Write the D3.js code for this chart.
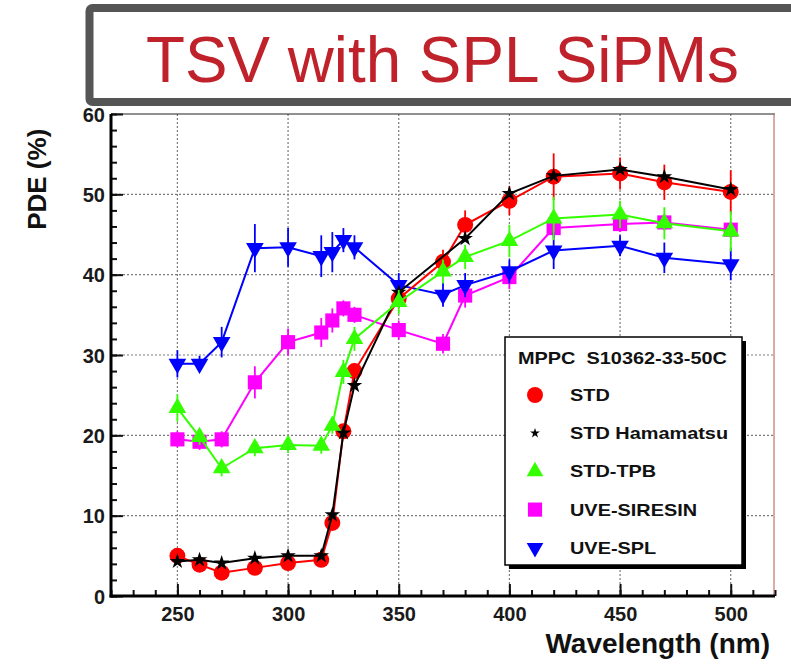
<!DOCTYPE html>
<html>
<head>
<meta charset="utf-8">
<script src="https://cdn.jsdelivr.net/npm/d3@7"></script>
<style>
  body { margin: 0; background: #fff; }
  svg { display: block; font-family: "Liberation Sans", Arial, sans-serif; }
</style>
</head>
<body>
<svg id="chart" width="791" height="664"></svg>
<script>
'use strict';

// wavelengths (nm) and PDE (%)
const stdNm = [250, 260, 270, 285, 300, 315, 320, 325, 330, 350, 370, 380, 400, 420, 450, 470, 500];
const stdPde = [5.0, 3.9, 2.9, 3.5, 4.1, 4.5, 9.1, 20.5, 28.0, 37.0, 41.6, 46.2, 49.2, 52.2, 52.6, 51.5, 50.3];
const stdErr = [0.5, 0.5, 0.5, 0.5, 0.5, 0.5, 0.6, 0.8, 1.0, 1.2, 1.5, 1.8, 1.8, 2.9, 2.0, 2.2, 2.7];

const hamNm = [250, 260, 270, 285, 300, 315, 320, 325, 330, 350, 380, 400, 420, 450, 470, 500];
const hamPde = [4.3, 4.5, 4.1, 4.7, 5.0, 5.0, 10.1, 20.3, 26.2, 37.8, 44.5, 50.1, 52.3, 53.1, 52.2, 50.6];
const hamErr = [0, 0, 0, 0, 0, 0, 0, 0, 0, 0, 0, 0, 0, 0, 0, 0];

const tpbNm = [250, 260, 270, 285, 300, 315, 320, 325, 330, 350, 370, 380, 400, 420, 450, 470, 500];
const tpbPde = [23.4, 19.8, 15.9, 18.4, 18.8, 18.7, 21.2, 27.9, 32.0, 36.6, 40.4, 42.2, 44.2, 47.0, 47.5, 46.4, 45.4];
const tpbErr = [1.7, 1.0, 1.0, 1.0, 1.0, 1.0, 1.0, 1.5, 1.5, 1.5, 1.5, 1.5, 2.0, 2.7, 1.7, 2.0, 2.5];

const siNm = [250, 260, 270, 285, 300, 315, 320, 325, 330, 350, 370, 380, 400, 420, 450, 470, 500];
const siPde = [19.5, 19.2, 19.5, 26.6, 31.6, 32.8, 34.3, 35.8, 35.0, 33.1, 31.4, 37.4, 39.7, 45.8, 46.3, 46.5, 45.6];
const siErr = [1.0, 1.0, 1.0, 2.0, 1.7, 1.8, 1.5, 1.0, 1.0, 1.2, 1.2, 1.5, 1.5, 1.2, 1.0, 1.0, 1.0];

const splNm = [250, 260, 270, 285, 300, 315, 320, 325, 330, 350, 370, 380, 400, 420, 450, 470, 500];
const splPde = [28.9, 28.9, 31.6, 43.3, 43.4, 42.3, 42.8, 44.3, 43.4, 38.7, 37.5, 38.7, 40.4, 43.0, 43.6, 42.1, 41.3];
const splErr = [1.7, 1.0, 1.9, 3.0, 2.4, 2.6, 2.5, 1.5, 1.5, 1.5, 1.5, 1.5, 1.5, 2.3, 1.3, 1.9, 2.0];

const xTicks = [250, 300, 350, 400, 450, 500];
const yTicks = [0, 10, 20, 30, 40, 50, 60];

const titleText = 'TSV with SPL SiPMs';
const legendHeader = 'MPPC  S10362-33-50C';

const svg = d3.select('#chart');
const x = d3.scaleLinear().domain([220, 520]).range([111, 775]);
const y = d3.scaleLinear().domain([0, 60]).range([596, 114]);

function zip(nm, pde, err) {
  return nm.map((n, i) => ({ nm: n, pde: pde[i], err: err[i] }));
}

// legend order; draw order differs a bit (green ends on top)
const series = [
  { name: 'STD', color: '#ff0000', shape: 'circle', data: zip(stdNm, stdPde, stdErr), z: 2 },
  { name: 'STD Hamamatsu', color: '#000000', shape: 'star', data: zip(hamNm, hamPde, hamErr), z: 3 },
  { name: 'STD-TPB', color: '#33ff00', shape: 'triUp', data: zip(tpbNm, tpbPde, tpbErr), z: 4 },
  { name: 'UVE-SIRESIN', color: '#ff00ff', shape: 'square', data: zip(siNm, siPde, siErr), z: 0 },
  { name: 'UVE-SPL', color: '#0000ff', shape: 'triDown', data: zip(splNm, splPde, splErr), z: 1 }
];

function markerPath(shape, small) {
  if (shape === 'circle') return d3.symbol(d3.symbolCircle, 200)();
  if (shape === 'star') return d3.symbol(d3.symbolStar, small ? 30 : 75)();
  if (shape === 'square') return d3.symbol(d3.symbolSquare, 200)();
  return d3.symbol(d3.symbolTriangle, small ? 120 : 135)();
}

function markerTransform(shape, px, py) {
  return shape === 'triDown' ? `translate(${px},${py}) rotate(180)` : `translate(${px},${py})`;
}

// grid
const grid = svg.append('g').attr('class', 'grid')
  .attr('stroke', '#7a7a7a').attr('stroke-width', 1.2).attr('stroke-dasharray', '2,2');
grid.selectAll('line.gx').data(xTicks).join('line').attr('class', 'gx')
  .attr('x1', d => x(d)).attr('x2', d => x(d)).attr('y1', y(60)).attr('y2', y(0));
grid.selectAll('line.gy').data(yTicks.filter(d => d > 0 && d < 60)).join('line').attr('class', 'gy')
  .attr('x1', x(220)).attr('x2', x(520)).attr('y1', d => y(d)).attr('y2', d => y(d));

// frame
svg.append('line').attr('x1', x(220)).attr('x2', x(520)).attr('y1', y(60)).attr('y2', y(60))
  .attr('stroke', '#222').attr('stroke-width', 1);
svg.append('line').attr('x1', x(520) - 1).attr('x2', x(520) - 1).attr('y1', y(60)).attr('y2', y(0))
  .attr('stroke', '#c87070').attr('stroke-width', 1.2);

// axes
const yMajor = svg.append('g').attr('transform', `translate(${x(220)},0)`)
  .call(d3.axisLeft(y).tickValues(yTicks).tickSizeInner(-12).tickSizeOuter(0).tickPadding(6));
const yMinor = svg.append('g').attr('transform', `translate(${x(220)},0)`)
  .call(d3.axisLeft(y).tickValues(d3.range(0, 61, 2)).tickSize(-6).tickFormat(''));
const xMajor = svg.append('g').attr('transform', `translate(0,${y(0)})`)
  .call(d3.axisBottom(x).tickValues(xTicks).tickSizeInner(-12).tickSizeOuter(0).tickPadding(4));
const xMinor = svg.append('g').attr('transform', `translate(0,${y(0)})`)
  .call(d3.axisBottom(x).tickValues(d3.range(220, 521, 10)).tickSize(-6).tickFormat(''));

[yMajor, yMinor, xMajor, xMinor].forEach(g => {
  g.select('.domain').remove();
  g.selectAll('.tick line').attr('stroke', '#111').attr('stroke-width', 2);
  g.selectAll('.tick text')
    .attr('font-family', '"Liberation Sans", Arial, sans-serif')
    .attr('font-size', 20).attr('font-weight', 'bold').attr('fill', '#1a1a1a');
});
xMajor.selectAll('.tick text').attr('dy', '1.05em');
yMajor.selectAll('.tick text').attr('dy', '0.36em');

svg.append('line').attr('x1', x(220)).attr('x2', x(220)).attr('y1', y(60)).attr('y2', y(0) + 1.5)
  .attr('stroke', '#000').attr('stroke-width', 3);
svg.append('line').attr('x1', x(220) - 1.5).attr('x2', x(520)).attr('y1', y(0)).attr('y2', y(0))
  .attr('stroke', '#000').attr('stroke-width', 3);

// axis titles
svg.append('text')
  .attr('transform', `translate(46,${(y(60) + y(45)) / 2 + 5}) rotate(-90)`)
  .attr('text-anchor', 'middle').attr('font-size', 26).attr('font-weight', 'bold').attr('fill', '#111')
  .text('PDE (%)');
svg.append('text')
  .attr('x', 770).attr('y', 653)
  .attr('text-anchor', 'end').attr('font-size', 28).attr('font-weight', 'bold').attr('fill', '#111')
  .text('Wavelength (nm)');

// series
const line = d3.line().x(d => x(d.nm)).y(d => y(d.pde));
const plot = svg.append('g').attr('class', 'plot');
series.slice().sort((a, b) => a.z - b.z).forEach(s => {
  const g = plot.append('g');
  g.append('path').datum(s.data).attr('d', line)
    .attr('fill', 'none').attr('stroke', s.color).attr('stroke-width', 2);
  g.selectAll('line.err').data(s.data.filter(d => d.err > 0)).join('line').attr('class', 'err')
    .attr('x1', d => x(d.nm)).attr('x2', d => x(d.nm))
    .attr('y1', d => y(d.pde - d.err)).attr('y2', d => y(d.pde + d.err))
    .attr('stroke', s.color).attr('stroke-width', 1.8);
  g.selectAll('path.mk').data(s.data).join('path').attr('class', 'mk')
    .attr('d', markerPath(s.shape, false))
    .attr('transform', d => markerTransform(s.shape, x(d.nm), y(d.pde)))
    .attr('fill', s.color);
});

// legend
const legend = svg.append('g').attr('transform', 'translate(505,337)');
legend.append('rect').attr('x', 4).attr('y', 4).attr('width', 237).attr('height', 228).attr('fill', '#000');
legend.append('rect').attr('width', 237).attr('height', 228)
  .attr('fill', '#fff').attr('stroke', '#000').attr('stroke-width', 1.5);
legend.append('text').attr('x', 13).attr('y', 27)
  .attr('font-size', 17).attr('font-weight', 'bold').attr('fill', '#111')
  .attr('xml:space', 'preserve')
  .text(legendHeader);
const rows = legend.selectAll('g.row').data(series).join('g').attr('class', 'row')
  .attr('transform', (d, i) => `translate(0,${58 + i * 38.2})`);
rows.append('path')
  .attr('d', d => markerPath(d.shape, true))
  .attr('transform', d => markerTransform(d.shape, 30, 0))
  .attr('fill', d => d.color);
rows.append('text').attr('x', 65).attr('y', 6)
  .attr('font-size', 17).attr('font-weight', 'bold').attr('fill', '#111')
  .text(d => d.name);
// the legend text in the picture is a little wider than the font
legend.selectAll('text').each(function() {
  const w = this.getComputedTextLength();
  d3.select(this).attr('textLength', w * 1.17).attr('lengthAdjust', 'spacingAndGlyphs');
});

// title box (covers the top of the plot and of the "60" label)
svg.append('rect')
  .attr('x', 89.5).attr('y', 8).attr('width', 760).attr('height', 94).attr('rx', 3)
  .attr('fill', '#fff').attr('stroke', '#555').attr('stroke-width', 8);
svg.append('text')
  .attr('x', 146).attr('y', 82)
  .attr('font-size', 64).attr('fill', '#c0222b')
  .attr('textLength', 593).attr('lengthAdjust', 'spacingAndGlyphs')
  .text(titleText);
</script>
</body>
</html>
